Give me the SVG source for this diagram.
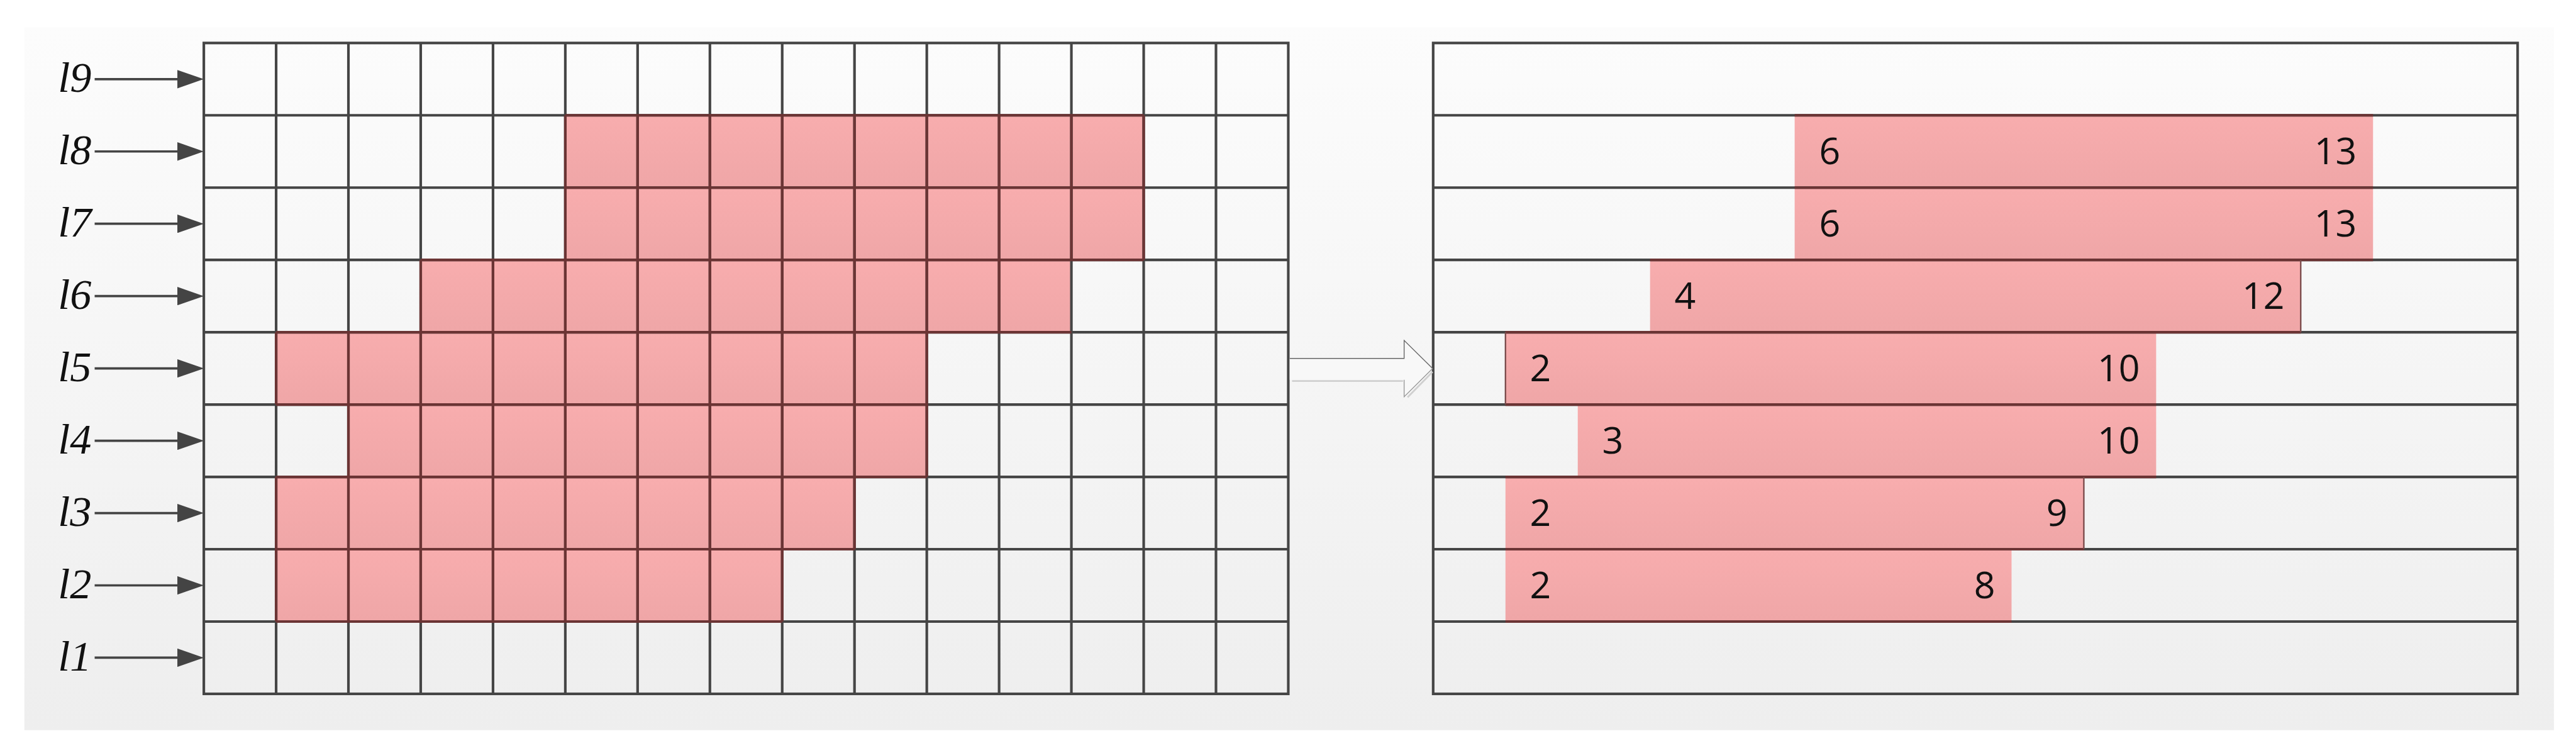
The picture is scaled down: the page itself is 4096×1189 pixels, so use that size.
<svg xmlns="http://www.w3.org/2000/svg" width="4096" height="1189" viewBox="0 0 4096 1189">
<defs>
<linearGradient id="bg" x1="0" y1="0" x2="0" y2="1"><stop offset="0" stop-color="#fcfcfc"/><stop offset="1" stop-color="#eeeeee"/></linearGradient>
<linearGradient id="pk" x1="0" y1="0" x2="0" y2="1"><stop offset="0" stop-color="#f8adae"/><stop offset="1" stop-color="#efa6a7"/></linearGradient>
<marker id="ah" markerUnits="userSpaceOnUse" markerWidth="46" markerHeight="32" refX="15" refY="16" orient="auto"><path d="M0,0 L46,16 L0,32 z" fill="#444"/></marker>
</defs>
<style>
.grid{fill:none;stroke:#454545;stroke-width:4.5}
.red{fill:none;stroke:#6b3434;stroke-width:4.5}
.thin{stroke:#7a4a4a;stroke-width:2.5}
.pink{fill:url(#pk)}
.lbl{font-family:"Liberation Serif","Times New Roman",serif;font-style:italic;font-size:74px;fill:#111}
.num{font-family:"Open Sans","Noto Sans",sans-serif;font-size:64px;fill:#111}
.r{text-anchor:end}
.conn{stroke:#444;stroke-width:4;fill:none}
</style>
<rect width="4096" height="1189" fill="#ffffff"/>
<g transform="scale(0.92335)">
<rect x="42" y="47" width="4356" height="1210" fill="url(#bg)"/>

<g id="left-grid">
<g id="left-pink">
<rect class="pink" x="973.5" y="198.5" width="996" height="124.5"/>
<rect class="pink" x="973.5" y="323" width="996" height="124.5"/>
<rect class="pink" x="724.5" y="447.5" width="1120.5" height="124.5"/>
<rect class="pink" x="475.5" y="572" width="1120.5" height="124.5"/>
<rect class="pink" x="600" y="696.5" width="996" height="124.5"/>
<rect class="pink" x="475.5" y="821" width="996" height="124.5"/>
<rect class="pink" x="475.5" y="945.5" width="871.5" height="124.5"/>
</g>
<rect class="grid" x="351" y="74" width="1867.5" height="1120.5"/>
<path class="grid" d="M475.5,74V1194.5M600,74V1194.5M724.5,74V1194.5M849,74V1194.5M973.5,74V1194.5M1098,74V1194.5M1222.5,74V1194.5M1347,74V1194.5M1471.5,74V1194.5M1596,74V1194.5M1720.5,74V1194.5M1845,74V1194.5M1969.5,74V1194.5M2094,74V1194.5
M351,198.5H2218.5M351,323H2218.5M351,447.5H2218.5M351,572H2218.5M351,696.5H2218.5M351,821H2218.5M351,945.5H2218.5M351,1070H2218.5"/>
<path class="red" d="M973.5,198.5H1969.5M973.5,323H1969.5M973.5,447.5H1969.5M724.5,447.5H1845M724.5,572H1845M475.5,572H1596M475.5,696.5H1596M475.5,821H1596M475.5,945.5H1471.5M475.5,1070H1347
M1098,198.5V572M1222.5,198.5V572M1347,198.5V572M1471.5,198.5V572M1596,198.5V572M1720.5,198.5V572M1845,198.5V447.5M973.5,198.5V572M1969.5,198.5V447.5
M849,447.5V696.5M724.5,447.5V572M973.5,572V696.5M1098,572V1070M1222.5,572V1070M1347,572V1070M1471.5,572V945.5M1596,572V821M600,572V1070M475.5,572V696.5M475.5,821V1070M724.5,572V1070M849,696.5V1070M973.5,696.5V1070"/>
</g>

<g id="right-grid">
<g id="right-bars">
<rect class="pink" x="3090.5" y="198.5" width="996" height="124.5"/>
<rect class="pink" x="3090.5" y="323" width="996" height="124.5"/>
<rect class="pink" x="2841.5" y="447.5" width="1120.5" height="124.5"/>
<rect class="pink" x="2592.5" y="572" width="1120.5" height="124.5"/>
<rect class="pink" x="2717" y="696.5" width="996" height="124.5"/>
<rect class="pink" x="2592.5" y="821" width="996" height="124.5"/>
<rect class="pink" x="2592.5" y="945.5" width="871.5" height="124.5"/>
</g>
<rect class="grid" x="2468" y="74" width="1867.5" height="1120.5"/>
<path class="grid" d="M2468,198.5H4335.5M2468,323H4335.5M2468,447.5H4335.5M2468,572H4335.5M2468,696.5H4335.5M2468,821H4335.5M2468,945.5H4335.5M2468,1070H4335.5"/>
<path class="red" d="M3090.5,198.5H4086.5M3090.5,323H4086.5M3090.5,447.5H4086.5M2841.5,447.5H3962M2841.5,572H3962M2592.5,572H3713M2592.5,696.5H3713M2592.5,821H3713M2592.5,945.5H3588.5M2592.5,1070H3464"/>
<path class="thin" d="M2592.5,572V696.5M3962,447.5V572M3588.5,821V945.5"/>
<g id="right-labels">
<text class="num" x="3132.5" y="283">6</text><text class="num r" x="4058.5" y="283">13</text>
<text class="num" x="3132.5" y="407.5">6</text><text class="num r" x="4058.5" y="407.5">13</text>
<text class="num" x="2883.5" y="532">4</text><text class="num r" x="3934" y="532">12</text>
<text class="num" x="2634.5" y="656.5">2</text><text class="num r" x="3685" y="656.5">10</text>
<text class="num" x="2759" y="781">3</text><text class="num r" x="3685" y="781">10</text>
<text class="num" x="2634.5" y="905.5">2</text><text class="num r" x="3560.5" y="905.5">9</text>
<text class="num" x="2634.5" y="1030">2</text><text class="num r" x="3436" y="1030">8</text>
</g>
</g>

<g id="row-labels">
<text class="lbl" x="100" y="158">l9</text>
<text class="lbl" x="100" y="282.5">l8</text>
<text class="lbl" x="100" y="407">l7</text>
<text class="lbl" x="100" y="531.5">l6</text>
<text class="lbl" x="100" y="656">l5</text>
<text class="lbl" x="100" y="780.5">l4</text>
<text class="lbl" x="100" y="905">l3</text>
<text class="lbl" x="100" y="1029.5">l2</text>
<text class="lbl" x="100" y="1154">l1</text>
</g>

<g id="connectors">
<path class="conn" marker-end="url(#ah)" d="M163,136.25H320"/>
<path class="conn" marker-end="url(#ah)" d="M163,260.75H320"/>
<path class="conn" marker-end="url(#ah)" d="M163,385.25H320"/>
<path class="conn" marker-end="url(#ah)" d="M163,509.75H320"/>
<path class="conn" marker-end="url(#ah)" d="M163,634.25H320"/>
<path class="conn" marker-end="url(#ah)" d="M163,758.75H320"/>
<path class="conn" marker-end="url(#ah)" d="M163,883.25H320"/>
<path class="conn" marker-end="url(#ah)" d="M163,1007.75H320"/>
<path class="conn" marker-end="url(#ah)" d="M163,1132.25H320"/>
<g id="block-arrow">
<path d="M2221,617 L2418,617 L2418,586 L2467,634.5 L2418,683 L2418,654 L2221,654 Z" fill="#f8f8f8" stroke="none"/>
<path d="M2221,617 L2418,617 L2418,586 L2467,634.5" fill="none" stroke="#666" stroke-width="1.5"/>
<path d="M2467,634.5 L2418,683 L2418,654" fill="none" stroke="#999" stroke-width="1.5"/>
<path d="M2225,656 L2416,656 M2424,684 L2467,640" fill="none" stroke="#d0d0d0" stroke-width="3"/>
</g>
</g>
</g>
</svg>
